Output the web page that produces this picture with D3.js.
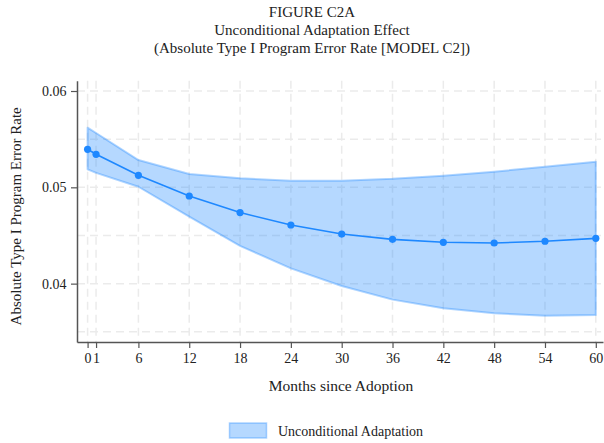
<!DOCTYPE html>
<html>
<head>
<meta charset="utf-8">
<script src="https://cdn.jsdelivr.net/npm/d3@7"></script>
<style>
  html, body { margin: 0; padding: 0; background: #fff; }
  svg { display: block; font-family: "Liberation Serif", "DejaVu Serif", serif; }
</style>
</head>
<body>
<svg id="chart" width="604" height="443"></svg>
<script>
// Months since adoption at which the effect is estimated
const months = [0, 1, 6, 12, 18, 24, 30, 36, 42, 48, 54, 60];
// Point estimate of the absolute Type I program error rate
const estimate = [0.05395, 0.05343, 0.05125, 0.04910, 0.04738, 0.04609, 0.04515, 0.04460, 0.04429, 0.04422, 0.04440, 0.04470];
// Confidence band bounds
const upper = [0.05619, 0.05564, 0.05283, 0.05138, 0.05093, 0.05069, 0.05069, 0.05088, 0.05120, 0.05162, 0.05214, 0.05266];
const lower = [0.05187, 0.05150, 0.05006, 0.04695, 0.04392, 0.04159, 0.03975, 0.03834, 0.03744, 0.03692, 0.03667, 0.03674];

const xTicks = [0, 1, 6, 12, 18, 24, 30, 36, 42, 48, 54, 60];
const yTicks = [0.04, 0.05, 0.06];
const yGrid = [0.035, 0.04, 0.045, 0.05, 0.055, 0.06];

const titleLines = ["FIGURE C2A", "Unconditional Adaptation Effect", "(Absolute Type I Program Error Rate [MODEL C2])"];
const xTitle = "Months since Adoption";
const yTitle = "Absolute Type I Program Error Rate";
const legendLabel = "Unconditional Adaptation";

const rows = months.map((m, i) => ({ m, est: estimate[i], hi: upper[i], lo: lower[i] }));

const svg = d3.select("#chart");
const plotL = 77, plotR = 603, plotT = 80.7, plotB = 342;

const x = d3.scaleLinear().domain([-1.25, 60.85]).range([plotL, plotR]);
const y = d3.scaleLinear().domain([0.03394, 0.06107]).range([plotB, plotT]);

const inkAxis = "#555";
const textCol = "#222";
const blue = "#1e88ff";

// Title
svg.append("g").selectAll("text").data(titleLines).join("text")
  .attr("x", 312).attr("y", (d, i) => 17.3 + i * 17.8)
  .attr("text-anchor", "middle")
  .attr("font-size", 15).attr("fill", textCol)
  .text(d => d);

// Dashed grid
const grid = svg.append("g").attr("stroke", "#ebebeb").attr("stroke-width", 1.5).attr("stroke-dasharray", "8,5");
grid.selectAll("line.h").data(yGrid).join("line").attr("class", "h")
  .attr("x1", plotL).attr("x2", plotR - 2)
  .attr("y1", d => y(d)).attr("y2", d => y(d));
grid.selectAll("line.v").data(xTicks).join("line").attr("class", "v")
  .attr("x1", d => x(d)).attr("x2", d => x(d))
  .attr("y1", plotT).attr("y2", plotB);

// Confidence band (translucent, so the grid shows through)
const area = d3.area().x(d => x(d.m)).y0(d => y(d.lo)).y1(d => y(d.hi));
svg.append("path").datum(rows)
  .attr("d", area)
  .attr("fill", blue).attr("fill-opacity", 0.33)
  .attr("stroke", blue).attr("stroke-opacity", 0.35)
  .attr("stroke-width", 2)
  .attr("stroke-linejoin", "round");

// Estimate line and points
const line = d3.line().x(d => x(d.m)).y(d => y(d.est));
svg.append("path").datum(rows)
  .attr("d", line).attr("fill", "none")
  .attr("stroke", blue).attr("stroke-width", 1.6);
svg.append("g").selectAll("circle").data(rows).join("circle")
  .attr("cx", d => x(d.m)).attr("cy", d => y(d.est)).attr("r", 3.6)
  .attr("fill", blue);

// Axes
const xAxis = d3.axisBottom(x).tickValues(xTicks).tickFormat(d3.format("d")).tickSize(6).tickSizeOuter(0);
const gx = svg.append("g").attr("transform", `translate(0,${plotB})`).call(xAxis);
const yAxis = d3.axisLeft(y).tickValues(yTicks).tickFormat(d3.format(".2f")).tickSize(6).tickSizeOuter(0);
const gy = svg.append("g").attr("transform", `translate(${plotL},0)`).call(yAxis);
[gx, gy].forEach(g => {
  g.select(".domain").attr("stroke", inkAxis).attr("stroke-width", 1.5);
  g.selectAll(".tick line").attr("stroke", inkAxis).attr("stroke-width", 1.2);
  g.selectAll(".tick text").attr("fill", textCol).attr("font-size", 14)
    .attr("font-family", "Liberation Serif, DejaVu Serif, serif");
});
gx.selectAll(".tick text").attr("dy", "0.85em");
gy.selectAll(".tick text").attr("dx", "-0.1em");

// Axis titles
svg.append("text").attr("x", 341).attr("y", 391)
  .attr("text-anchor", "middle").attr("font-size", 15.5).attr("fill", textCol).text(xTitle);
svg.append("text").attr("transform", `translate(21,${(plotT + plotB) / 2 + 5}) rotate(-90)`)
  .attr("text-anchor", "middle").attr("font-size", 15).attr("fill", textCol).text(yTitle);

// Legend
const lg = svg.append("g");
lg.append("rect").attr("x", 229.5).attr("y", 423).attr("width", 37).attr("height", 15)
  .attr("fill", blue).attr("fill-opacity", 0.33)
  .attr("stroke", blue).attr("stroke-opacity", 0.35).attr("stroke-width", 1.5);
lg.append("text").attr("x", 278).attr("y", 435.5).attr("font-size", 14).attr("fill", textCol).text(legendLabel);
</script>
</body>
</html>
